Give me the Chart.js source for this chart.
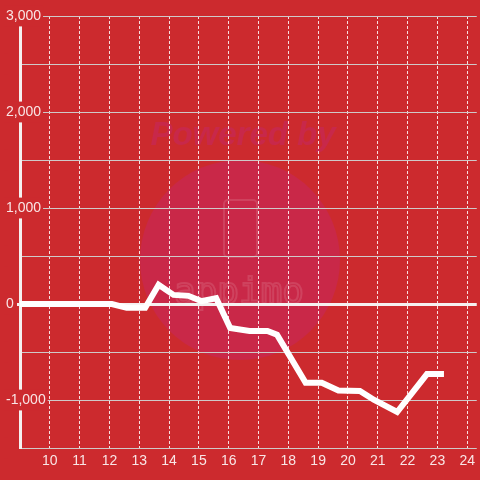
<!DOCTYPE html>
<html lang="en">

<head>
    <meta charset="UTF-8">
    <title>Chart</title>
    <script src="https://cdn.jsdelivr.net/npm/chart.js@4.4.1/dist/chart.umd.min.js"></script>
    <style>
        html, body {
            margin: 0;
            padding: 0;
            background: #cc2a2e;
        }

        #line-chart {
            display: block;
            background: #cc2a2e;
        }
    </style>
</head>

<body>
    <canvas id="line-chart" width="480" height="480"></canvas>
    <script>
        // values (hour of day, value)
        const hours = [9.0, 12.08, 12.58, 13.2, 13.65, 14.15, 14.65, 15.08, 15.58, 16.05, 16.7, 17.3, 17.62, 18.58, 19.12, 19.68, 20.4, 20.88, 21.65, 22.65, 23.22];
        const values = [0, 0, -40, -40, 200, 95, 85, 30, 60, -250, -280, -280, -320, -820, -820, -900, -905, -1000, -1125, -730, -730];
        const xTickLabels = [10, 11, 12, 13, 14, 15, 16, 17, 18, 19, 20, 21, 22, 23, 24];
        const yTickLabels = [-1000, 0, 1000, 2000, 3000];

        const bg = '#cc2a2e';
        const labelColor = 'rgba(255,255,255,0.88)';

        // faint "Powered by" watermark behind the grid
        const watermark = {
            id: 'watermark',
            beforeDraw: chart => {
                const ctx = chart.ctx;
                ctx.save();
                ctx.fillStyle = '#c92848';
                ctx.beginPath();
                ctx.arc(240, 260, 100, 0, Math.PI * 2);
                ctx.fill();
                ctx.fillStyle = '#c8284a';
                ctx.font = 'italic bold 33px "Liberation Sans"';
                ctx.textAlign = 'center';
                ctx.textBaseline = 'alphabetic';
                ctx.fillText('Powered by', 243, 145);
                ctx.strokeStyle = 'rgba(255,255,255,0.12)';
                ctx.lineWidth = 2;
                ctx.beginPath();
                ctx.roundRect(224, 200, 33, 57, 4);
                ctx.stroke();
                ctx.font = '36px "DejaVu Sans Mono"';
                ctx.strokeText('appimo', 239, 303);
                ctx.restore();
            }
        };

        const isZero = c => c.tick && c.tick.value === 0;

        const ctx = document.getElementById('line-chart').getContext('2d');
        const myChart = new Chart(ctx, {
            type: 'line',
            data: {
                datasets: [{
                    data: hours.map((h, i) => ({ x: h, y: values[i] })),
                    borderColor: '#ffffff',
                    borderWidth: 6,
                    pointRadius: 0,
                    tension: 0,
                    fill: false
                }]
            },
            options: {
                responsive: false,
                animation: false,
                devicePixelRatio: 1,
                layout: {
                    padding: { left: 6, top: 16, right: 0, bottom: 0 }
                },
                plugins: {
                    legend: { display: false },
                    tooltip: { enabled: false }
                },
                scales: {
                    x: {
                        type: 'linear',
                        min: 9,
                        max: 24.32,
                        afterFit: scale => { scale.height = 32; },
                        ticks: {
                            stepSize: 1,
                            includeBounds: false,
                            autoSkip: false,
                            maxRotation: 0,
                            padding: 5,
                            color: labelColor,
                            font: { family: '"Liberation Sans"', size: 14 },
                            callback: v => xTickLabels.includes(v) ? String(v) : ''
                        },
                        grid: {
                            drawTicks: false,
                            lineWidth: 1,
                            color: c => (c.tick && xTickLabels.includes(c.tick.value)) ? 'rgba(255,255,255,0.85)' : 'rgba(0,0,0,0)'
                        },
                        border: { display: false, dash: [3, 2] }
                    },
                    y: {
                        min: -1500,
                        max: 3000,
                        afterFit: scale => { scale.width = 14; },
                        ticks: {
                            stepSize: 500,
                            mirror: true,
                            crossAlign: 'near',
                            padding: -14,
                            color: labelColor,
                            font: { family: '"Liberation Sans"', size: 14 },
                            showLabelBackdrop: true,
                            backdropColor: bg,
                            backdropPadding: 2,
                            callback: v => yTickLabels.includes(v) ? v.toLocaleString('en-US') : ''
                        },
                        grid: {
                            drawTicks: true,
                            tickLength: 3,
                            tickWidth: c => isZero(c) ? 3 : 1,
                            tickColor: c => isZero(c) ? '#f5f0f0' : 'rgba(0,0,0,0)',
                            lineWidth: c => isZero(c) ? 3 : 1,
                            color: c => isZero(c) ? '#f5f0f0' : '#cfc9c9'
                        },
                        border: { display: true, color: '#f5f0f0', width: 3 }
                    }
                }
            },
            plugins: [watermark]
        });
    </script>
</body>

</html>
